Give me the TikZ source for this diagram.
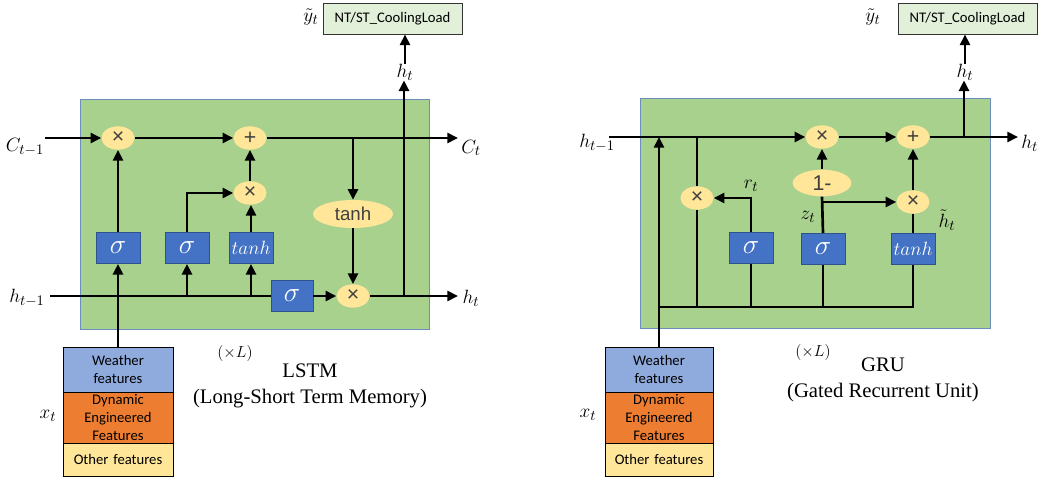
\documentclass[tikz,border=0pt]{standalone}
\usepackage{fontspec}
\setmainfont{Liberation Serif}
\newfontfamily\calib{Carlito}
\newfontfamily\arialf{Liberation Sans}
\usetikzlibrary{shapes.geometric,arrows.meta}
\definecolor{cellgreen}{HTML}{A9D18E}
\definecolor{cellborder}{HTML}{6C8EBF}
\definecolor{gateblue}{HTML}{4472C4}
\definecolor{gateborder}{HTML}{2F528F}
\definecolor{opyellow}{HTML}{FFE699}
\definecolor{wblue}{HTML}{8FAADC}
\definecolor{dorange}{HTML}{ED7D31}
\definecolor{outgreen}{HTML}{E2F0D9}
\definecolor{optext}{HTML}{404040}
\begin{document}
\begin{tikzpicture}[x=0.75pt,y=-0.75pt,
  conn/.style={line width=2pt, black},
  arr/.style={conn, -{Triangle[length=8pt,width=7.5pt]}},
  cellbox/.style={rectangle, fill=cellgreen, draw=cellborder, line width=0.6pt, minimum height=172.5pt, inner sep=0pt},
  opnode/.style={ellipse, fill=opyellow, inner sep=0pt, minimum width=24.75pt, minimum height=17.5pt, font=\arialf\fontsize{16}{16}\selectfont, text=optext},
  gatebox/.style={rectangle, fill=gateblue, draw=gateborder, line width=0.6pt, minimum width=33pt, minimum height=23.25pt, inner sep=0pt, text=white, font=\fontsize{21}{21}\selectfont},
  tanhbox/.style={gatebox, font=\fontsize{15}{15}\selectfont},
  feat/.style={rectangle, draw=black, line width=0.6pt, inner sep=0pt, minimum width=82.5pt, text width=80pt, align=center, font=\calib\fontsize{11}{13.5}\selectfont},
  outbox/.style={rectangle, fill=outgreen, draw=black!80, line width=0.7pt, minimum width=104.25pt, minimum height=23.25pt, inner sep=0pt, font=\calib\fontsize{11}{13}\selectfont},
  lbl/.style={inner sep=0pt, font=\fontsize{15}{15}\selectfont},
  title/.style={align=center, inner sep=0pt, font=\fontsize{15.5}{19}\selectfont}
]
\useasboundingbox (0,0) rectangle (1038,481);

%% ================= LSTM =================
\node[cellbox, minimum width=261.75pt] (lcell) at (254.5,214) {};

\node[outbox] (lout) at (392.5,18.5) {NT/ST\_CoolingLoad};
\node[lbl] (lyt) at (311,17) {$\tilde{y}_t$};
\node[lbl] (lht) at (405,72) {$h_t$};

\node[lbl] (lcm1) at (25,147) {$C_{t-1}$};
\node[lbl] (lct) at (471,148) {$C_t$};
\node[lbl] (lhm1) at (27,298) {$h_{t-1}$};
\node[lbl] (lhtr) at (471,298) {$h_t$};

\node[opnode] (lm1) at (118,138) {×};
\node[opnode] (la1) at (250,138) {+};
\node[opnode] (lm2) at (250,193) {×};
\node[opnode, minimum width=60pt, minimum height=21pt, font=\arialf\fontsize{14}{14}\selectfont] (lth) at (353,214) {tanh};
\node[opnode] (lm3) at (353,296) {×};

\node[gatebox] (ls1) at (118,248) {$\sigma$};
\node[gatebox] (ls2) at (187,248) {$\sigma$};
\node[tanhbox] (ltb) at (251,248) {$tanh$};
\node[gatebox, minimum width=31.5pt] (ls3) at (292,296) {$\sigma$};

\node[feat, fill=wblue, minimum height=33.75pt] (lw) at (118,369.5) {Weather\\features};
\node[feat, fill=dorange, minimum height=38.25pt] (ld) at (118,417.5) {Dynamic\\Engineered\\Features};
\node[feat, fill=opyellow, minimum height=24.75pt] (lo) at (118,459.5) {Other features};
\node[lbl] (lxt) at (48,416) {$x_t$};

\node[lbl, font=\fontsize{12}{12}\selectfont] (lxl) at (235,353) {$(\times L)$};
\node[title] (ltitle) at (310,386) {LSTM\\(Long-Short Term Memory)};

\coordinate (lcin) at (45,138);
\coordinate (lcout) at (458,138);
\coordinate (lhin) at (50,296);
\coordinate (lhout) at (458,296);
\coordinate (lvt) at (404,296);

\draw[arr] (lcin) -- (lm1);
\draw[arr] (lm1) -- (la1);
\draw[arr] (la1.east) -- (lcout);
\draw[arr] (la1.east -| lth.north) -- (lth.north);
\draw[arr] (lth) -- (lm3);
\draw[arr] (ls1) -- (lm1);
\draw[arr] (ls2.north) |- (lm2.west);
\draw[arr] (ltb.north) -- (ltb.north |- lm2.south);
\draw[arr] (lm2) -- (la1);
\draw[conn] (lhin) -- (ls3.west);
\draw[arr] (lhin -| ls2.south) -- (ls2.south);
\draw[arr] (lhin -| ltb.south) -- (ltb.south);
\draw[arr] (ls3) -- (lm3);
\draw[arr] (lm3.east) -- (lhout);
\draw[arr] (lvt) -- (lvt |- lht.south);
\draw[arr] (lht.north) -- (lht.north |- lout.south);
\draw[arr] (lw.north) -- (ls1.south);

%% ================= GRU =================
\node[cellbox, minimum width=262.5pt] (gcell) at (815,213) {};

\node[outbox] (gout) at (967.5,18.5) {NT/ST\_CoolingLoad};
\node[lbl] (gyt) at (873,17) {$\tilde{y}_t$};
\node[lbl] (ght) at (965,72) {$h_t$};

\node[lbl] (ghm1) at (597,143) {$h_{t-1}$};
\node[lbl, anchor=west] (ghtr) at (1021,143) {$h_t$};

\node[opnode] (gmt) at (822,137) {×};
\node[opnode] (gpl) at (913,137) {+};
\node[opnode] (gmr) at (697,198) {×};
\node[opnode, minimum width=44pt, minimum height=20pt] (gom) at (822,183) {1-};
\node[opnode] (gmh) at (913,202) {×};

\node[gatebox] (gsr) at (751,248) {$\sigma$};
\node[gatebox] (gsz) at (823,249) {$\sigma$};
\node[tanhbox] (gtb) at (913,249) {$tanh$};

\node[lbl] (grt) at (751,186) {$r_t$};
\node[lbl] (gzt) at (808,217) {$z_t$};
\node[lbl] (ghtil) at (947,220) {$\tilde{h}_t$};

\node[feat, fill=wblue, minimum height=33.75pt, minimum width=81pt] (gw) at (659,369.5) {Weather\\features};
\node[feat, fill=dorange, minimum height=38.25pt, minimum width=81pt] (gd) at (659,417.5) {Dynamic\\Engineered\\Features};
\node[feat, fill=opyellow, minimum height=24.75pt, minimum width=81pt] (go) at (659,459.5) {Other features};
\node[lbl] (gxt) at (588,415) {$x_t$};

\node[lbl, font=\fontsize{12}{12}\selectfont] (gxl) at (813,352) {$(\times L)$};
\node[title] (gtitle) at (883,380) {GRU\\(Gated Recurrent Unit)};

\coordinate (ghin) at (609,137);
\coordinate (ghout) at (1018,137);
\coordinate (gvt) at (964,137);
\coordinate (gbus) at (659,307);

\draw[arr] (ghin) -- (gmt.west);
\draw[arr] (gmt) -- (gpl);
\draw[arr] (gpl.east) -- (ghout);
\draw[arr] (gvt) -- (gvt |- ght.south);
\draw[arr] (ght.north) -- (ght.north |- gout.south);
\draw[conn] (gmr.north) -- (gmr.north |- ghin);
\draw[arr] (gsr.north) |- (gmr.east);
\draw[conn] (gsz.north) -- (gom.south);
\draw[arr] (gsz.north |- gmh.west) -- (gmh.west);
\draw[arr] (gom) -- (gmt);
\draw[conn] (gtb.north) -- (gmh.south);
\draw[arr] (gmh) -- (gpl);
\draw[arr] (gw.north) -- (gw.north |- ghin);
\draw[conn] (gbus) -- (gbus -| gtb.south) -- (gtb.south);
\draw[conn] (gbus -| gmr.south) -- (gmr.south);
\draw[conn] (gbus -| gsr.south) -- (gsr.south);
\draw[conn] (gbus -| gsz.south) -- (gsz.south);
\end{tikzpicture}
\end{document}
